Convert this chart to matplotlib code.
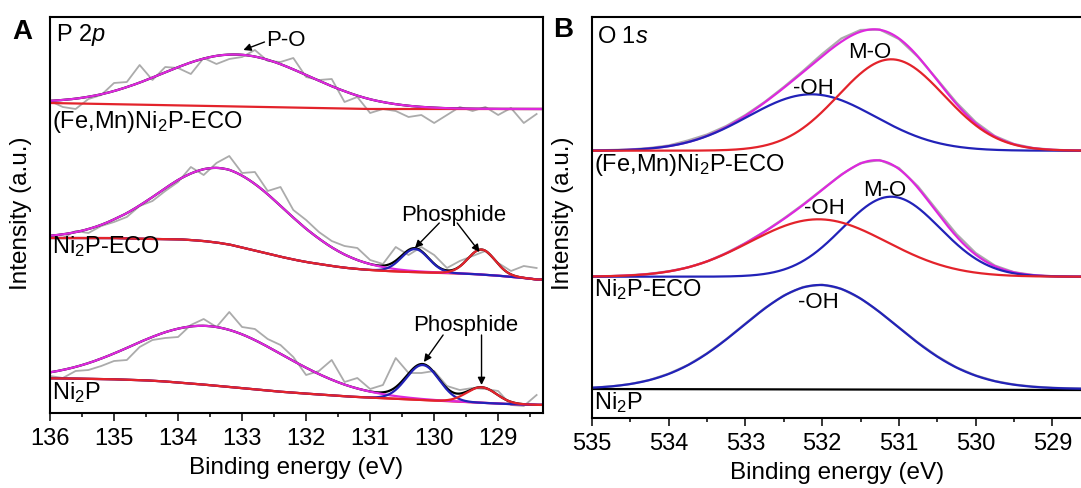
import numpy as np
import matplotlib.pyplot as plt
from matplotlib.ticker import MultipleLocator

plt.rcParams["font.family"] = ["Liberation Sans", "DejaVu Sans"]
plt.rcParams["mathtext.fontset"] = "custom"
plt.rcParams["mathtext.rm"] = "Liberation Sans"
plt.rcParams["mathtext.it"] = "Liberation Sans:italic"
plt.rcParams["mathtext.bf"] = "Liberation Sans:bold"

# ---------------- panel A: P 2p ----------------
# raw data energies (eV), 0.2 eV step
e_a = np.round(np.linspace(136.0, 128.4, 39), 2)

base_a_femn = [310.0, 309.8, 309.5, 309.3, 309.0, 308.8, 308.6, 308.3, 308.1, 307.8,
               307.6, 307.4, 307.1, 306.9, 306.6, 306.4, 306.2, 305.9, 305.7, 305.4,
               305.2, 305.0, 304.7, 304.5, 304.2, 304.0, 304.0, 304.0, 304.0, 304.0,
               304.0, 304.0, 304.0, 304.0, 304.0, 304.0, 304.0, 304.0, 304.0]
raw_a_femn = [312, 306, 304, 314, 318, 330, 331, 348, 333, 346, 345, 339, 355, 349,
              354, 356, 363, 352, 351, 355, 336, 333, 334, 311, 316, 300, 304, 302,
              296, 298, 290, 298, 306, 302, 306, 298, 305, 290, 299]

base_a_eco = [175, 175, 175, 175, 175, 175, 174.5, 174.3, 174, 174, 173.8, 173, 172,
              170.5, 168.5, 165.5, 162.5, 159.5, 156.3, 153.5, 151, 149, 147, 145.3,
              144, 143, 142.2, 141.6, 141.1, 140.7, 140.4, 140, 139.5, 139, 138.2,
              137.3, 136.2, 135, 133.5]
raw_a_eco = [176, 175, 182, 180, 187, 191, 196, 207, 212, 222, 231, 246, 238, 250,
             257, 240, 241, 222, 226, 203, 193, 181, 172, 167, 165, 153, 149, 166,
             158, 166, 158, 145, 152, 157, 162, 150, 142, 147, 145]

base_a_ni2p = [34.7, 34.6, 34.4, 34.2, 34.0, 33.7, 33.3, 33.0, 32.3, 31.5, 30.5, 29.5,
               28.4, 27.2, 26.0, 24.8, 23.6, 22.4, 21.3, 20.3, 19.4, 18.5, 17.6, 16.7,
               16.0, 15.4, 14.8, 14.2, 13.6, 13.0, 12.4, 11.8, 11.2, 10.6, 10.0, 9.4,
               8.9, 8.5, 8.1]
raw_a_ni2p = [37, 35, 42, 43, 47, 52, 53, 66, 73, 75, 76, 88, 94, 86, 101, 86, 84, 74,
              68, 56, 38, 42, 53, 31, 35, 24, 28, 55, 40, 40, 42, 27, 23, 25, 24, 22,
              8, 7, 18]

# fitted components: (FeMn, ECO, Ni2P)
po_center = [133.1, 133.3, 133.5]
po_fwhm = [2.7, 2.4, 2.75]
po_height = [52, 75, 59]
# phosphide doublet (ECO, Ni2P)
ph1_center = [130.3, 130.18]
ph1_fwhm = [0.5, 0.6]
ph1_height = [23, 35]
ph2_center = [129.26, 129.26]
ph2_fwhm = [0.5, 0.55]
ph2_height = [25, 15.5]

# ---------------- panel B: O 1s ----------------
e_b = [535.0, 534.75, 534.5, 534.25, 534.0, 533.75, 533.5, 533.25, 533.0, 532.75,
       532.5, 532.25, 532.0, 531.75, 531.5, 531.25, 531.0, 530.75, 530.5, 530.25,
       530.0, 529.75, 529.5, 529.25, 529.0, 528.75, 528.6]
raw_b_femn = [267.5, 268, 268.5, 270, 272.5, 277.5, 283.5, 292, 303, 316, 331, 347,
              364, 379.5, 388, 388.5, 379, 361, 338.5, 315.5, 296, 282, 274, 270,
              268.3, 267.6, 267.4]
raw_b_eco = [141.5, 142, 142.8, 144.2, 146.8, 150.5, 156.5, 165, 175, 186.5, 199.5,
             213.5, 228.5, 243.5, 255, 258, 250, 231.5, 207.5, 184, 165, 152.5, 145.8,
             143, 141.8, 141.4, 141.3]
raw_b_ni2p_eco = [30.3, 31.6, 34, 38, 44.3, 53, 64.7, 78.8, 94.5, 109.8, 122.6, 131,
                  133.4, 129.2, 119.5, 106, 90.6, 75.3, 61.8, 50.6, 42.6, 37, 33.5,
                  31.4, 30.2, 29.6, 29.4]
ni2p_flat_e = [535.0, 528.6]
ni2p_flat = [29.0, 28.0]

base_b = [267.3, 141.3, 29.0]
oh_center = [532.14, 532.05, 532.03]
oh_fwhm = [1.95, 2.1, 2.36]
oh_height = [56.4, 57.4, 104]
mo_center = [531.1, 531.1]
mo_fwhm = [1.62, 1.5]
mo_height = [91.4, 80]

MAG = "#DD28DD"
RED = "#E3232B"
BLUE = "#2222B8"
GRAY = "#ABABAB"
LW = 1.6


def gauss(x, c, fwhm, h):
    s = fwhm / 2.3548
    return h * np.exp(-0.5 * ((x - c) / s) ** 2)


def style_axis(ax):
    ax.set_yticks([])
    ax.xaxis.set_major_locator(MultipleLocator(1))
    ax.xaxis.set_minor_locator(MultipleLocator(0.5))
    ax.tick_params(axis="x", which="major", direction="out", length=5.5, width=1.1,
                   labelsize=17, pad=5.5)
    ax.tick_params(axis="x", which="minor", direction="out", length=3, width=1.1)
    for sp in ax.spines.values():
        sp.set_linewidth(1.5)
    ax.set_xlabel("Binding energy (eV)", fontsize=17.5, labelpad=5)


fig = plt.figure(figsize=(10.81, 4.88), dpi=100)
axA = fig.add_axes([50 / 1081, 75 / 488, 493 / 1081, 396 / 488])
axB = fig.add_axes([592 / 1081, 70 / 488, 491 / 1081, 401 / 488])

# ---- A ----
ef = np.linspace(136.0, 128.3, 900)
bases = [base_a_femn, base_a_eco, base_a_ni2p]
raws = [raw_a_femn, raw_a_eco, raw_a_ni2p]
for i in range(3):
    b = np.interp(ef, e_a[::-1], np.array(bases[i])[::-1])
    po = gauss(ef, po_center[i], po_fwhm[i], po_height[i])
    env = b + po
    if i > 0:
        p1 = gauss(ef, ph1_center[i - 1], ph1_fwhm[i - 1], ph1_height[i - 1])
        p2 = gauss(ef, ph2_center[i - 1], ph2_fwhm[i - 1], ph2_height[i - 1])
        env = env + p1 + p2
    axA.plot(e_a, raws[i], color=GRAY, lw=1.3)
    axA.plot(ef, env, color="black", lw=LW)
    axA.plot(ef, b, color=RED, lw=LW)
    axA.plot(ef, b + po, color=MAG, lw=LW)
    if i > 0:
        axA.plot(ef, b + p1, color=BLUE, lw=LW)
        axA.plot(ef, b + p2, color=RED, lw=LW)

axA.set_xlim(136, 128.3)
axA.set_ylim(0, 396)
style_axis(axA)

axA.text(135.9, 378, "P 2$\\it{p}$", fontsize=17, ha="left", va="center")
axA.text(135.97, 291, "(Fe,Mn)Ni$_2$P-ECO", fontsize=17, ha="left", va="center")
axA.text(135.97, 166, "Ni$_2$P-ECO", fontsize=17, ha="left", va="center")
axA.text(135.97, 20, "Ni$_2$P", fontsize=17, ha="left", va="center")

arrow = dict(arrowstyle="-|>", color="black", lw=1.0, mutation_scale=11,
             shrinkA=0, shrinkB=0)
axA.text(132.63, 373, "P-O", fontsize=16, ha="left", va="center")
axA.annotate("", xy=(132.98, 363), xytext=(132.65, 371), arrowprops=arrow)

axA.text(129.7, 198, "Phosphide", fontsize=16, ha="center", va="center")
axA.annotate("", xy=(130.3, 165), xytext=(129.92, 190), arrowprops=arrow)
axA.annotate("", xy=(129.29, 161), xytext=(129.64, 190), arrowprops=arrow)

axA.text(129.51, 88, "Phosphide", fontsize=16, ha="center", va="center")
axA.annotate("", xy=(130.16, 51), xytext=(129.86, 78), arrowprops=arrow)
axA.annotate("", xy=(129.26, 28), xytext=(129.26, 78), arrowprops=arrow)

# ---- B ----
eb = np.linspace(535.0, 528.6, 700)
raws_b = [raw_b_femn, raw_b_eco, raw_b_ni2p_eco]
oh_col = [BLUE, RED, BLUE]
mo_col = [RED, BLUE]
for i in range(3):
    oh = gauss(eb, oh_center[i], oh_fwhm[i], oh_height[i])
    env = base_b[i] + oh
    if i < 2:
        mo = gauss(eb, mo_center[i], mo_fwhm[i], mo_height[i])
        env = env + mo
    axB.plot(e_b, raws_b[i], color=GRAY, lw=1.6)
    if i < 2:
        axB.plot(eb, env, color=MAG, lw=LW)
    if i == 2:
        axB.plot(ni2p_flat_e, ni2p_flat, color="black", lw=LW)
    if i == 0:
        axB.plot(eb, base_b[i] + oh, color=oh_col[i], lw=LW)
        axB.plot(eb, base_b[i] + mo, color=mo_col[i], lw=LW)
    elif i == 1:
        axB.plot(eb, base_b[i] + mo, color=mo_col[i], lw=LW)
        axB.plot(eb, base_b[i] + oh, color=oh_col[i], lw=LW)
    else:
        axB.plot(eb, base_b[i] + oh, color=oh_col[i], lw=LW)

axB.set_xlim(535, 528.6)
axB.set_ylim(0, 401)
style_axis(axB)

axB.text(534.93, 381, "O 1$\\it{s}$", fontsize=17, ha="left", va="center")
axB.text(531.38, 365, "M-O", fontsize=16, ha="center", va="center")
axB.text(532.12, 330, "-OH", fontsize=16, ha="center", va="center")
axB.text(534.98, 253, "(Fe,Mn)Ni$_2$P-ECO", fontsize=17, ha="left", va="center")
axB.text(531.18, 228, "M-O", fontsize=16, ha="center", va="center")
axB.text(531.97, 210, "-OH", fontsize=16, ha="center", va="center")
axB.text(534.98, 128, "Ni$_2$P-ECO", fontsize=17, ha="left", va="center")
axB.text(532.05, 115, "-OH", fontsize=16, ha="center", va="center")
axB.text(534.98, 15, "Ni$_2$P", fontsize=17, ha="left", va="center")

fig.text(21 / 1081, 1 - 213 / 488, "Intensity (a.u.)", rotation=90, fontsize=17.5,
         ha="center", va="center")
fig.text(563 / 1081, 1 - 213 / 488, "Intensity (a.u.)", rotation=90, fontsize=17.5,
         ha="center", va="center")
fig.text(22 / 1081, 1 - 32 / 488, "A", fontsize=20, fontweight="bold",
         ha="center", va="center")
fig.text(563 / 1081, 1 - 30 / 488, "B", fontsize=20, fontweight="bold",
         ha="center", va="center")

fig.savefig("out.png", dpi=100)
